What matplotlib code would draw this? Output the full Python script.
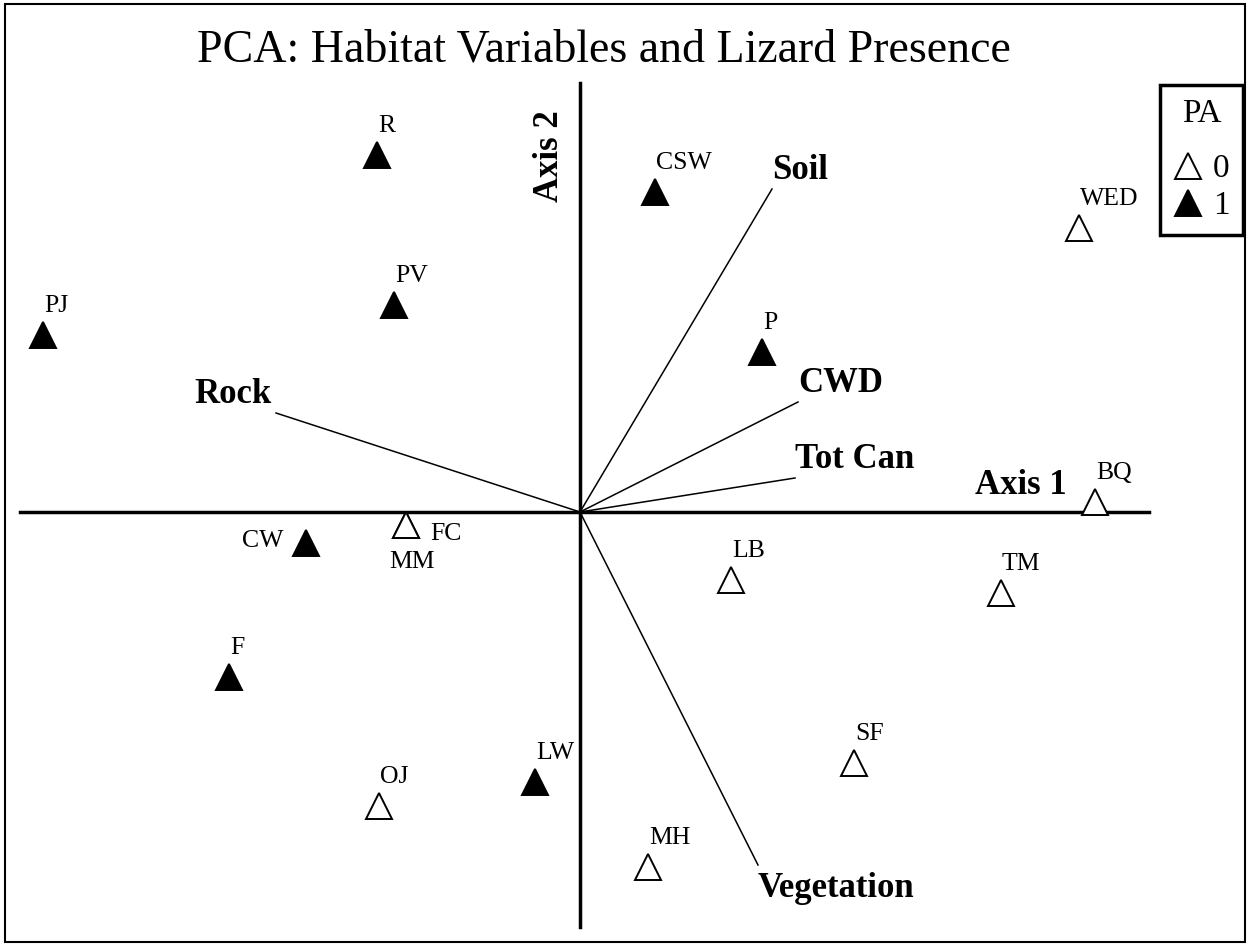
import matplotlib
matplotlib.use('Agg')
import matplotlib.pyplot as plt
from matplotlib.lines import Line2D
from matplotlib.patches import Rectangle

plt.rcParams['font.family'] = ['Liberation Serif', 'DejaVu Serif']

# site scores on the first two PCA axes
sites = ['R', 'CSW', 'WED', 'PV', 'PJ', 'P', 'BQ', 'FC', 'MM', 'CW',
         'LB', 'TM', 'F', 'SF', 'LW', 'OJ', 'MH']
axis1 = [-2.03, 0.75, 4.99, -1.86, -5.37, 1.82, 5.15, -1.74, -1.74, -2.74,
         1.51, 4.21, -3.51, 2.74, -0.45, -2.01, 0.68]
axis2 = [3.57, 3.20, 2.84, 2.07, 1.77, 1.60, 0.10, -0.13, -0.13, -0.31,
         -0.68, -0.81, -1.65, -2.51, -2.70, -2.94, -3.55]
presence = [1, 1, 0, 1, 1, 1, 0, 0, 0, 1, 0, 0, 1, 0, 1, 0, 0]

# habitat variable loadings
variables = ['Soil', 'CWD', 'Tot Can', 'Rock', 'Vegetation']
load1 = [1.92, 2.18, 2.15, -3.04, 1.78]
load2 = [3.23, 1.10, 0.34, 0.99, -3.53]


def label_offset(name):
    """
    Returns pixel offset and horizontal alignment for a site label
    """
    if name == 'FC':
        return (24, -15), 'left'
    if name == 'MM':
        return (6, -43), 'center'
    if name == 'CW':
        return (-23, -4), 'right'
    return (1, 23), 'left'


def var_offset(name):
    """
    Returns pixel offset and horizontal alignment for a variable label
    """
    if name == 'Rock':
        return (-4, 10), 'right'
    if name == 'Vegetation':
        return (0, -32), 'left'
    return (0, 10), 'left'


def main():
    fig = plt.figure(figsize=(12.54, 9.46), dpi=100)
    ax = fig.add_axes([0, 0, 1, 1])
    ax.set_xlim(-5.80, 6.74)
    ax.set_ylim(-4.34, 5.12)
    ax.axis('off')

    # axes of the biplot
    ax.plot([-5.60, 5.69], [0, 0], color='black', lw=2.5)
    ax.plot([0, 0], [-4.15, 4.29], color='black', lw=2.5)
    ax.annotate('Axis 1', (4.87, 0), xytext=(0, 18),
                textcoords='offset pixels', ha='right', va='baseline',
                fontsize=25, fontweight='bold')
    ax.annotate('Axis 2', (0, 3.56), xytext=(-14, 0),
                textcoords='offset pixels', ha='right', va='center',
                rotation=90, fontsize=25, fontweight='bold')

    # variable vectors
    for name, x, y in zip(variables, load1, load2):
        ax.plot([0, x], [0, y], color='black', lw=1.1)
        off, ha = var_offset(name)
        ax.annotate(name, (x, y), xytext=off, textcoords='offset pixels',
                    ha=ha, va='baseline', fontsize=25, fontweight='bold')

    # sites
    for name, x, y, pa in zip(sites, axis1, axis2, presence):
        face = 'black' if pa == 1 else 'white'
        ax.plot(x, y, marker='^', ms=19, mfc=face, mec='black', mew=1.4,
                ls='none')
        off, ha = label_offset(name)
        ax.annotate(name, (x, y), xytext=off, textcoords='offset pixels',
                    ha=ha, va='baseline', fontsize=18.5)

    fig.text(197 / 1254, 1 - 62 / 946,
             'PCA: Habitat Variables and Lizard Presence',
             ha='left', va='baseline', fontsize=33)

    handles = [Line2D([], [], marker='^', ms=19, mfc='white', mec='black',
                      mew=1.4, ls='none'),
               Line2D([], [], marker='^', ms=19, mfc='black', mec='black',
                      mew=1.4, ls='none')]
    leg = fig.legend(handles, ['0', '1'], title='PA', loc='upper right',
                     bbox_to_anchor=(1243 / 1254, 1 - 85 / 946),
                     fontsize=24, title_fontsize=24, frameon=True,
                     fancybox=False, edgecolor='black', framealpha=1,
                     handlelength=0.9, handletextpad=0.3, labelspacing=0.2,
                     borderpad=0.4, borderaxespad=0)
    leg.get_frame().set_linewidth(2.5)
    leg._legend_box.sep = 18

    fig.patches.append(Rectangle((5 / 1254, 4 / 946), 1240 / 1254,
                                 938 / 946, transform=fig.transFigure,
                                 fill=False, edgecolor='black', lw=1.5))
    fig.savefig('out.png', dpi=100)


if __name__ == '__main__':
    main()
